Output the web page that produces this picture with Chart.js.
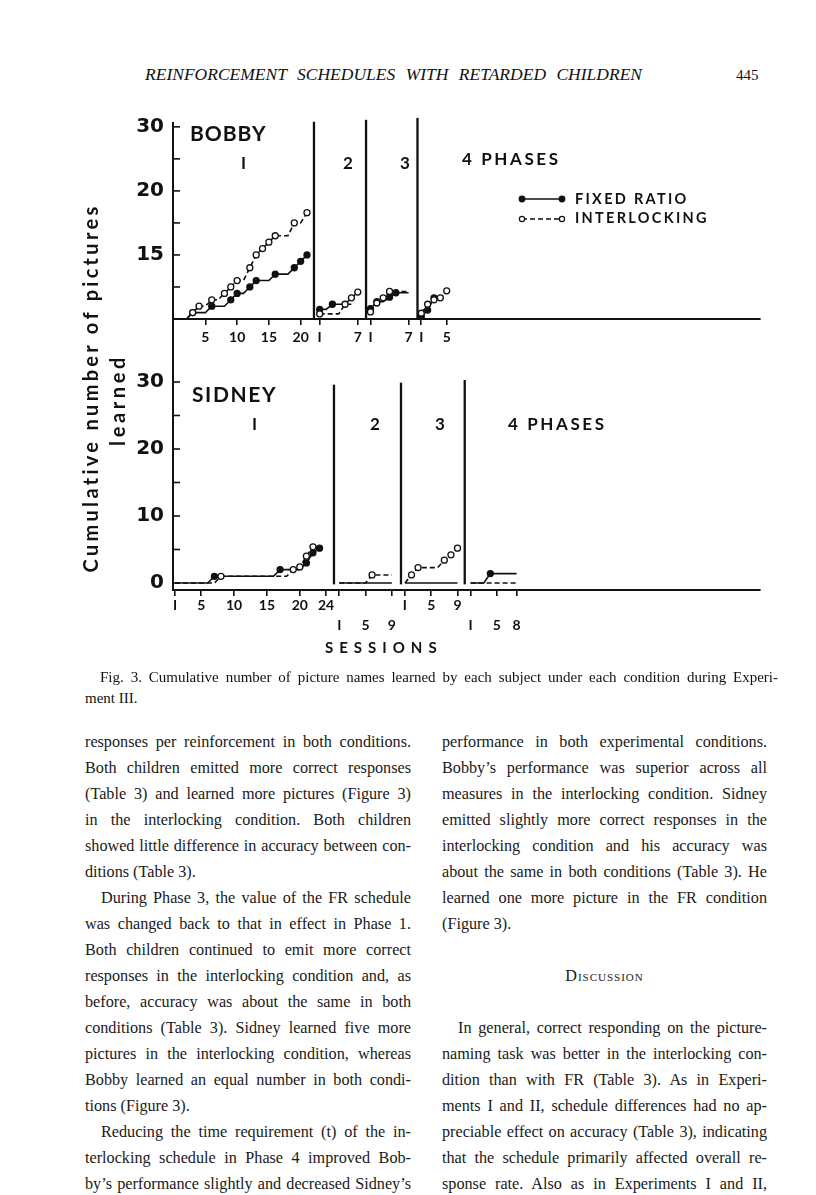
<!DOCTYPE html>
<html>
<head>
<meta charset="utf-8">
<title>Fig. 3</title>
<script src="https://cdn.jsdelivr.net/npm/chart.js@4.4.1/dist/chart.umd.min.js"></script>
<style>
  body { margin: 0; background: #fff; }
  #page { position: relative; width: 816px; height: 1195px; overflow: hidden; color: #1a1a1a; font-family: "Liberation Serif", serif; }
  canvas { position: absolute; left: 0; }
  .lab { position: absolute; font-family: Lato, sans-serif; font-weight: 700; line-height: 1; transform: translateY(-50%); white-space: nowrap; color: #111; }
  .ln { position: absolute; height: 26px; line-height: 26px; font-size: 16.2px; white-space: nowrap; text-align: justify; text-align-last: justify; }
  .ln.end { text-align-last: left; }
  .vt { position: absolute; font-family: Lato, sans-serif; font-weight: 700; font-size: 20px; white-space: nowrap; transform: translate(-50%, -50%) rotate(-90deg); color: #111; }
</style>
</head>
<body>
<div id="page">
  <div class="lab" style="left:145px; top:75px; width:497px; font-family:'Liberation Serif',serif; font-style:italic; font-weight:400; font-size:17.5px; text-align:justify; text-align-last:justify;">REINFORCEMENT SCHEDULES WITH RETARDED CHILDREN</div>
  <div class="lab" style="left:736px; top:75px; font-family:'Liberation Serif',serif; font-weight:400; font-size:15px;">445</div>

  <canvas id="bobby" width="816" height="250" style="top:100px"></canvas>
  <canvas id="sidney" width="816" height="370" style="top:290px"></canvas>

  <div class="vt" style="left:90px; top:388px; letter-spacing:3.3px;">Cumulative number of pictures</div>
  <div class="vt" style="left:117px; top:400px; letter-spacing:3.6px;">learned</div>

  <div class="lab" style="left:190px; top:132px; font-size:21px; letter-spacing:1px;">BOBBY</div>
  <div class="lab" style="left:241px; top:162px; font-size:17px;">I</div>
  <div class="lab" style="left:343px; top:162px; font-size:17px;">2</div>
  <div class="lab" style="left:400px; top:162px; font-size:17px;">3</div>
  <div class="lab" style="left:462px; top:158px; font-size:17px; letter-spacing:2.6px;">4 PHASES</div>
  <div class="lab" style="left:575px; top:199px; font-size:14.5px; letter-spacing:2.3px;">FIXED RATIO</div>
  <div class="lab" style="left:575px; top:218px; font-size:14.5px; letter-spacing:2.3px;">INTERLOCKING</div>

  <div class="lab" style="left:192px; top:393px; font-size:21px; letter-spacing:1.6px;">SIDNEY</div>
  <div class="lab" style="left:252px; top:423px; font-size:17px;">I</div>
  <div class="lab" style="left:370px; top:423px; font-size:17px;">2</div>
  <div class="lab" style="left:435px; top:423px; font-size:17px;">3</div>
  <div class="lab" style="left:508px; top:423px; font-size:17px; letter-spacing:2.6px;">4 PHASES</div>
  <div class="lab" style="left:325px; top:647px; font-size:15px; letter-spacing:6px;">SESSIONS</div>

  <div class="lab" style="left:100px; top:677px; width:678px; font-family:'Liberation Serif',serif; font-weight:400; font-size:15px; text-align:justify; text-align-last:justify;">Fig. 3. Cumulative number of picture names learned by each subject under each condition during Experi-</div>
  <div class="lab" style="left:85px; top:698px; font-family:'Liberation Serif',serif; font-weight:400; font-size:15px;">ment III.</div>

  <div id="text"></div>
</div>

<script>
// Bobby: one array per phase, value per session
const bobbyFR = [
  [0, 0, 1, 1, 1, 2, 2, 2, 3, 4, 4, 5, 6, 6, 6, 7, 7, 7, 8, 9, 10],
  [1.5, 1.5, 2.3, 2.3, 2.3, 2.3],
  [1.6, 2.7, 2.7, 3.4, 4.1, 4.1, 4.1],
  [0.4, 1.4, 3.3]
];
const bobbyIL = [
  [0, 0, 1, 2, 2, 3, 3, 4, 5, 6, 6, 8, 10, 11, 12, 13, 13, 13, 15, 15, 16.6],
  [0.8, 0.8, 0.8, 0.8, 2.3, 3.3, 4.2],
  [1.1, 2.5, 3.3, 4.3, 4.3, 4.3, 4.3],
  [0.9, 2.3, 3.0, 3.3, 4.4]
];
const bobbyPhaseStart = [0, 22, 30, 38];
const bobbyPhaseEnds = [22.1, 30.3, 38.4];
const bobbyPhaseTops = [30.8, 31.1, 31.4];
const bobbyXTicks = [5, 10, 15, 20, 23, 29, 31, 37, 39, 43];
const bobbyXLabels = ['5', '10', '15', '20', 'I', '7', 'I', '7', 'I', '5'];
const bobbyYTicks = [0, 5, 10, 15, 20, 25, 30];
const bobbyYLabels = ['', '', '15', '', '20', '', '30'];

// Sidney
const sidneyFR = [
  [0, 0, 0, 0, 0, 0, 1, 1, 1, 1, 1, 1, 1, 1, 1, 1, 2, 2, 2, 2, 3, 4.5, 5.2],
  [0, 0, 0, 0, 0, 0, 0, 0, 0],
  [0, 0, 0, 0, 0, 0, 0, 0, 0],
  [0, 0, 0, 1.4, 1.4, 1.4, 1.4, 1.4]
];
const sidneyIL = [
  [0, 0, 0, 0, 0, 0, 0, 1, 1, 1, 1, 1, 1, 1, 1, 1, 1, 1, 2, 2.4, 4, 5.4],
  [0, 0, 0, 0, 0, 1.2, 1.2, 1.2, 1.2],
  [0, 1.2, 2.3, 2.3, 2.3, 2.3, 3.4, 4.2, 5.2],
  [0, 0, 0, 0, 0, 0, 0, 0]
];
const sidneyPhaseStart = [0, 25, 35, 45];
const sidneyPhaseEnds = [25.2, 35.4, 45.1];
const sidneyPhaseTops = [29.6, 29.9, 30.3];
const sidneyXTicks = [1, 5, 10, 15, 20, 24, 26, 30, 34, 36, 40, 44, 46, 50, 53];
const sidneyXLabels = ['I', '5', '10', '15', '20', '24', ['', 'I'], ['', '5'], ['', '9'],
  'I', '5', '9', ['', 'I'], ['', '5'], ['', '8']];
const sidneyYTicks = [0, 5, 10, 15, 20, 25, 30];
const sidneyYLabels = ['0', '', '10', '', '20', '', '30'];

const ink = '#111';

const seriesSet = (vals, start, open) => ({
  data: vals.map((v, i) => ({ x: start + i + 1, y: v })),
  borderColor: ink,
  borderWidth: 1.6,
  borderDash: open ? [5, 3] : [],
  tension: 0,
  clip: false,
  pointRadius: (ctx) => {
    if (ctx.type !== 'data') return 3;
    const i = ctx.dataIndex;
    const prev = i ? vals[i - 1] : 0;
    return vals[i] !== prev ? 3 : 0;
  },
  pointBackgroundColor: open ? '#fff' : ink,
  pointBorderColor: ink,
  pointBorderWidth: 1.3,
});

const buildSets = (fr, il, starts) => [
  ...il.map((vals, p) => seriesSet(vals, starts[p], true)),
  ...fr.map((vals, p) => seriesSet(vals, starts[p], false)),
];

// phase separators, inner y tick marks and the key
const figureMarks = {
  id: 'figureMarks',
  afterDatasetsDraw(chart, args, opts) {
    const { ctx, chartArea } = chart;
    const x = chart.scales.x;
    const y = chart.scales.y;
    ctx.save();
    ctx.strokeStyle = ink;
    ctx.lineWidth = 2.3;
    opts.ends.forEach((pos, i) => {
      const px = x.getPixelForValue(pos);
      ctx.beginPath();
      ctx.moveTo(px, y.getPixelForValue(opts.tops[i]));
      ctx.lineTo(px, y.getPixelForValue(opts.floor));
      ctx.stroke();
    });
    ctx.lineWidth = 1.6;
    opts.marks.forEach((v) => {
      const py = y.getPixelForValue(v);
      ctx.beginPath();
      ctx.moveTo(chartArea.left, py);
      ctx.lineTo(chartArea.left + 7, py);
      ctx.stroke();
    });
    if (opts.key) {
      [[99, false], [119, true]].forEach(([ky, open]) => {
        ctx.setLineDash(open ? [5, 3] : []);
        ctx.lineWidth = 1.6;
        ctx.beginPath();
        ctx.moveTo(522, ky);
        ctx.lineTo(562, ky);
        ctx.stroke();
        ctx.setLineDash([]);
        [522, 562].forEach((kx) => {
          ctx.beginPath();
          ctx.arc(kx, ky, open ? 2.6 : 2.8, 0, Math.PI * 2);
          ctx.fillStyle = open ? '#fff' : ink;
          ctx.fill();
          ctx.lineWidth = 1.2;
          ctx.stroke();
        });
      });
    }
    ctx.restore();
  }
};

const makeChart = (id, o) => new Chart(document.getElementById(id), {
  type: 'line',
  data: { datasets: buildSets(o.fr, o.il, o.starts) },
  options: {
    responsive: false,
    animation: false,
    events: [],
    layout: { padding: { left: 0, right: 56, top: o.padTop, bottom: 0 } },
    plugins: {
      legend: { display: false },
      tooltip: { enabled: false },
      figureMarks: { ends: o.ends, tops: o.tops, floor: o.floor, marks: o.marks, key: o.key },
    },
    scales: {
      x: {
        type: 'linear',
        min: o.xMin,
        max: o.xMax,
        afterFit: (scale) => { scale.height = o.xHeight; },
        afterBuildTicks: (scale) => { scale.ticks = o.xTicks.map((v) => ({ value: v })); },
        ticks: {
          autoSkip: false,
          maxRotation: 0,
          padding: o.xPad,
          color: ink,
          font: { family: 'Lato', weight: 'bold', size: 14, lineHeight: o.xLine },
          callback: (value, index) => o.xLabels[index],
        },
        grid: { display: true, drawOnChartArea: false, drawTicks: true, tickLength: 6, color: ink, lineWidth: 1.6 },
        border: { display: true, color: ink, width: 2 },
      },
      y: {
        type: 'linear',
        min: o.yMin,
        max: o.yMax,
        afterFit: (scale) => { scale.width = 173; },
        afterBuildTicks: (scale) => { scale.ticks = o.yTicks.map((v) => ({ value: v })); },
        ticks: {
          autoSkip: false,
          padding: 9,
          color: ink,
          font: { family: 'DejaVu Sans', weight: 'bold', size: 20 },
          callback: (value, index) => o.yLabels[index],
        },
        grid: { display: true, drawOnChartArea: false, drawTicks: false },
        border: { display: true, color: ink, width: 2 },
      },
    },
  },
  plugins: [figureMarks],
});

makeChart('bobby', {
  fr: bobbyFR, il: bobbyIL, starts: bobbyPhaseStart,
  ends: bobbyPhaseEnds, tops: bobbyPhaseTops, floor: 0,
  marks: [5, 10, 15, 20, 25, 30], key: true,
  xTicks: bobbyXTicks, xLabels: bobbyXLabels, xMin: -0.1, xMax: 92.34,
  xHeight: 31, xPad: 4, xLine: 1.2,
  yTicks: bobbyYTicks, yLabels: bobbyYLabels, yMin: 0, yMax: 30.6,
  padTop: 23,
});

makeChart('sidney', {
  fr: sidneyFR, il: sidneyIL, starts: sidneyPhaseStart,
  ends: sidneyPhaseEnds, tops: sidneyPhaseTops, floor: -0.2,
  marks: [0, 5, 10, 15, 20, 25, 30], key: false,
  xTicks: sidneyXTicks, xLabels: sidneyXLabels, xMin: 0.7, xMax: 90.04,
  xHeight: 70, xPad: 0, xLine: 1.4,
  yTicks: sidneyYTicks, yLabels: sidneyYLabels, yMin: -1.045, yMax: 39.4,
  padTop: 29,
});

// body text, one entry per printed line: [text, ending line, indented]
const col1 = [
  ['responses per reinforcement in both conditions.'],
  ['Both children emitted more correct responses'],
  ['(Table 3) and learned more pictures (Figure 3)'],
  ['in the interlocking condition. Both children'],
  ['showed little difference in accuracy between con-'],
  ['ditions (Table 3).', true],
  ['During Phase 3, the value of the FR schedule', false, true],
  ['was changed back to that in effect in Phase 1.'],
  ['Both children continued to emit more correct'],
  ['responses in the interlocking condition and, as'],
  ['before, accuracy was about the same in both'],
  ['conditions (Table 3). Sidney learned five more'],
  ['pictures in the interlocking condition, whereas'],
  ['Bobby learned an equal number in both condi-'],
  ['tions (Figure 3).', true],
  ['Reducing the time requirement (t) of the in-', false, true],
  ['terlocking schedule in Phase 4 improved Bob-'],
  ['by\u2019s performance slightly and decreased Sidney\u2019s'],
];
const col2 = [
  ['performance in both experimental conditions.'],
  ['Bobby\u2019s performance was superior across all'],
  ['measures in the interlocking condition. Sidney'],
  ['emitted slightly more correct responses in the'],
  ['interlocking condition and his accuracy was'],
  ['about the same in both conditions (Table 3). He'],
  ['learned one more picture in the FR condition'],
  ['(Figure 3).', true],
  null, null, null,
  ['In general, correct responding on the picture-', false, true],
  ['naming task was better in the interlocking con-'],
  ['dition than with FR (Table 3). As in Experi-'],
  ['ments I and II, schedule differences had no ap-'],
  ['preciable effect on accuracy (Table 3), indicating'],
  ['that the schedule primarily affected overall re-'],
  ['sponse rate. Also as in Experiments I and II,'],
];

const textBox = document.getElementById('text');
const placeColumn = (lines, left, width) => {
  lines.forEach((line, row) => {
    if (!line) return;
    const [t, end, indent] = line;
    const d = document.createElement('div');
    d.className = end ? 'ln end' : 'ln';
    d.textContent = t;
    const shift = indent ? 16 : 0;
    d.style.left = (left + shift) + 'px';
    d.style.width = (width - shift) + 'px';
    d.style.top = (729 + row * 26) + 'px';
    textBox.appendChild(d);
  });
};
placeColumn(col1, 85, 326);
placeColumn(col2, 442, 325);

const head = document.createElement('div');
head.className = 'ln';
head.textContent = 'Discussion';
head.style.cssText = 'left:442px; width:325px; top:' + (729 + 9 * 26) +
  'px; text-align:center; text-align-last:center; font-variant:small-caps; letter-spacing:1px;';
textBox.appendChild(head);
</script>
</body>
</html>
